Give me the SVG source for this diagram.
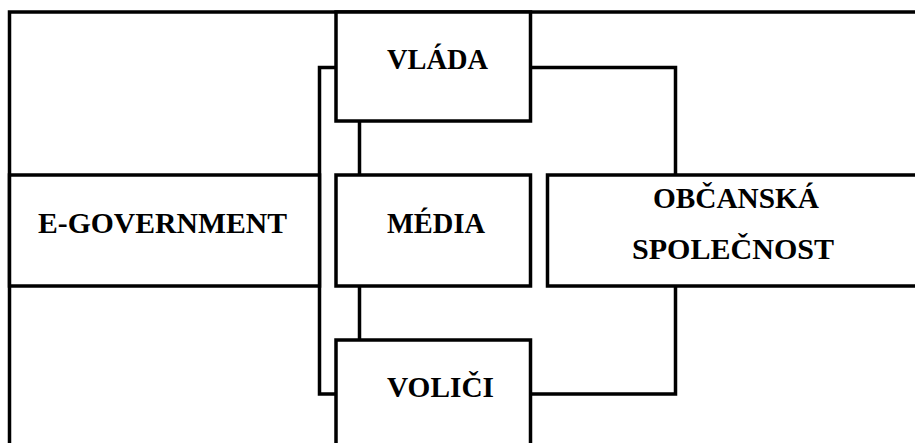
<svg xmlns="http://www.w3.org/2000/svg" width="915" height="443" viewBox="0 0 915 443">
  <style>
    .box { fill: #ffffff; stroke: #000000; stroke-width: 3.5; }
    .line { fill: none; stroke: #000000; stroke-width: 3.5; stroke-linejoin: miter; stroke-linecap: square; }
    .label { font-family: "Liberation Serif", "Times New Roman", serif; font-weight: bold; font-size: 29.5px; fill: #000000; text-anchor: middle; }
  </style>
  <rect width="915" height="443" fill="#ffffff"/>

  <!-- outer frame: top and left rules -->
  <path class="line" d="M 9.5 450 L 9.5 12 L 925 12"/>

  <g id="connectors">
    <!-- left bus: VLÁDA to VOLIČI -->
    <path class="line" d="M 336 67.5 L 319.5 67.5 L 319.5 394 L 336 394"/>
    <!-- VLÁDA to MÉDIA -->
    <path class="line" d="M 359.5 121 L 359.5 175"/>
    <!-- MÉDIA to VOLIČI -->
    <path class="line" d="M 359.5 286 L 359.5 340"/>
    <!-- VLÁDA to OBČANSKÁ SPOLEČNOST -->
    <path class="line" d="M 530.5 67.5 L 675.5 67.5 L 675.5 175"/>
    <!-- VOLIČI to OBČANSKÁ SPOLEČNOST -->
    <path class="line" d="M 530.5 394 L 675.5 394 L 675.5 286"/>
  </g>

  <g id="e-government">
    <rect class="box" x="9.5" y="175" width="310" height="111"/>
    <text class="label" x="162.5" y="233" textLength="249" lengthAdjust="spacingAndGlyphs">E-GOVERNMENT</text>
  </g>

  <g id="vlada">
    <rect class="box" x="336" y="12" width="194.5" height="109"/>
    <text class="label" x="437.5" y="69" textLength="101" lengthAdjust="spacingAndGlyphs">VLÁDA</text>
  </g>

  <g id="media">
    <rect class="box" x="336" y="175" width="194.5" height="111"/>
    <text class="label" x="436" y="233" textLength="98" lengthAdjust="spacingAndGlyphs">MÉDIA</text>
  </g>

  <g id="volici">
    <rect class="box" x="336" y="340" width="194.5" height="120"/>
    <text class="label" x="440.5" y="397" textLength="107" lengthAdjust="spacingAndGlyphs">VOLIČI</text>
  </g>

  <g id="obcanska-spolecnost">
    <rect class="box" x="547.5" y="175" width="380" height="111"/>
    <text class="label" x="736" y="208" textLength="166" lengthAdjust="spacingAndGlyphs">OBČANSKÁ</text>
    <text class="label" x="733" y="259" textLength="202" lengthAdjust="spacingAndGlyphs">SPOLEČNOST</text>
  </g>
</svg>
